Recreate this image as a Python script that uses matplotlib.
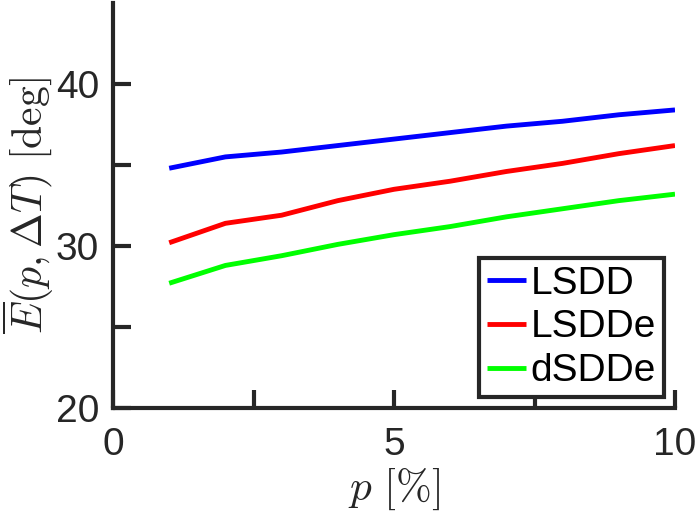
import matplotlib
matplotlib.use("Agg")
import matplotlib.pyplot as plt
import numpy as np

plt.rcParams['font.family'] = ['Liberation Sans', 'DejaVu Sans']
plt.rcParams['mathtext.fontset'] = 'cm'

p = [1, 2, 3, 4, 5, 6, 7, 8, 9, 10]
lsdd = [34.8, 35.5, 35.8, 36.2, 36.6, 37.0, 37.4, 37.7, 38.1, 38.4]
lsdde = [30.2, 31.4, 31.9, 32.8, 33.5, 34.0, 34.6, 35.1, 35.7, 36.2]
dsdde = [27.7, 28.8, 29.4, 30.1, 30.7, 31.2, 31.8, 32.3, 32.8, 33.2]

xticks = [0, 2.5, 5, 7.5, 10]
xticklabels = ['0', '', '5', '', '10']
yticks = [20, 25, 30, 35, 40]
yticklabels = ['20', '', '30', '', '40']

axcol = '#262626'

fig = plt.figure(figsize=(6.96, 5.17), dpi=100)
ax = fig.add_axes([113/696, 109/517, 562/696, 405/517])

ax.plot(p, lsdd, color=(0, 0, 1), lw=3.5, label='LSDD', solid_capstyle='butt')
ax.plot(p, lsdde, color=(1, 0, 0), lw=3.5, label='LSDDe', solid_capstyle='butt')
ax.plot(p, dsdde, color=(0, 1, 0), lw=3.5, label='dSDDe', solid_capstyle='butt')

ax.set_xlim(0, 10)
ax.set_ylim(20, 45)
ax.set_xticks(xticks)
ax.set_xticklabels(xticklabels)
ax.set_yticks(yticks)
ax.set_yticklabels(yticklabels)

for s in ['top', 'right']:
    ax.spines[s].set_visible(False)
for s in ['left', 'bottom']:
    ax.spines[s].set_linewidth(3)
    ax.spines[s].set_color(axcol)

ax.tick_params(direction='in', length=13, width=3, colors=axcol,
               labelsize=28, pad=10)
ax.tick_params(axis='x', pad=14)

ax.set_xlabel(r'$p\ [\%]$', fontsize=31, color=axcol, labelpad=2)
ax.set_ylabel(r'$\overline{E}(p,\Delta T)\ [\mathrm{deg}]$', fontsize=30,
              color=axcol, labelpad=0)

leg = ax.legend(loc='lower right', bbox_to_anchor=(1 - 11/562, 11/405),
                fontsize=28, frameon=True, fancybox=False, handlelength=1.0,
                handletextpad=0.13, borderpad=0.2, labelspacing=0.2,
                borderaxespad=0)
leg.get_frame().set_edgecolor(axcol)
leg.get_frame().set_linewidth(3)
leg.get_frame().set_alpha(1)
for t in leg.get_texts():
    t.set_color('black')

fig.savefig('out.png', dpi=100)
